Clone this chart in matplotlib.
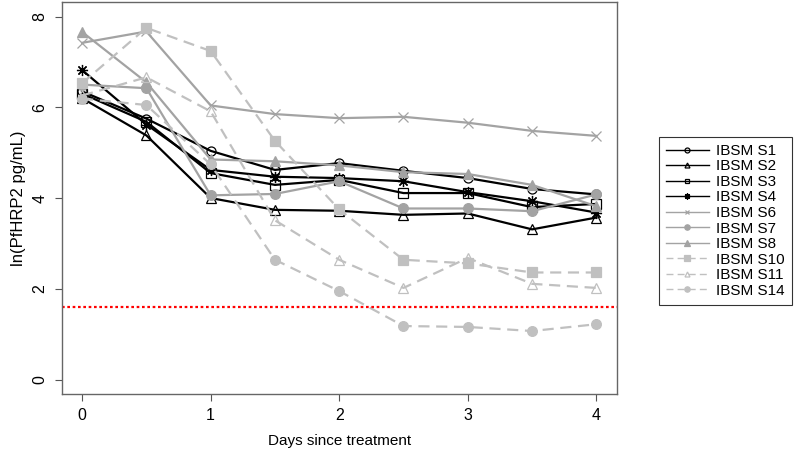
import matplotlib
matplotlib.use("Agg")
import matplotlib.pyplot as plt
import numpy as np

plt.rcParams['font.family'] = ['Liberation Sans', 'DejaVu Sans']

days = [0, 0.5, 1, 1.5, 2, 2.5, 3, 3.5, 4]

s1 = [6.35, 5.75, 5.04, 4.62, 4.77, 4.60, 4.44, 4.20, 4.08]
s2 = [6.20, 5.38, 4.00, 3.74, 3.72, 3.63, 3.66, 3.31, 3.57]
s3 = [6.30, 5.68, 4.55, 4.29, 4.40, 4.11, 4.11, 3.80, 3.87]
s4 = [6.82, 5.62, 4.62, 4.47, 4.44, 4.37, 4.13, 3.93, 3.68]
s6 = [7.42, 7.67, 6.04, 5.85, 5.76, 5.79, 5.66, 5.48, 5.37]
s7 = [6.50, 6.42, 4.06, 4.09, 4.37, 3.77, 3.77, 3.71, 4.08]
s8 = [7.66, 6.55, 4.85, 4.81, 4.72, 4.57, 4.53, 4.29, 3.82]
s10 = [6.53, 7.75, 7.24, 5.26, 3.75, 2.64, 2.56, 2.36, 2.36]
s11 = [6.26, 6.66, 5.91, 3.51, 2.64, 2.02, 2.68, 2.11, 2.02]
s14 = [6.19, 6.05, 4.74, 2.64, 1.95, 1.18, 1.16, 1.07, 1.22]

names = ["IBSM S1", "IBSM S2", "IBSM S3", "IBSM S4", "IBSM S6",
         "IBSM S7", "IBSM S8", "IBSM S10", "IBSM S11", "IBSM S14"]
threshold = np.log(5)

black = "black"
grey = "#a3a3a3"
light = "#c0c0c0"

# (data, colour, linestyle, marker, filled)
series = [
    (s1, black, "-", "o", False),
    (s2, black, "-", "^", False),
    (s3, black, "-", "s", False),
    (s4, black, "-", (8, 2, 0), False),
    (s6, grey, "-", "x", False),
    (s7, grey, "-", "o", True),
    (s8, grey, "-", "^", True),
    (s10, light, (0, (5, 3)), "s", True),
    (s11, light, (0, (5, 3)), "^", False),
    (s14, light, (0, (5, 3)), "o", True),
]

fig = plt.figure(figsize=(7.96, 4.53), dpi=100)
ax = fig.add_axes([0.0773, 0.130, 0.6977, 0.8656])

handles = []
for (vals, col, ls, mk, filled), name in zip(series, names):
    fc = col if filled else "none"
    ms = 7 if filled else 6.5
    if mk == (8, 2, 0):
        ms = 8
    h, = ax.plot(days, vals, color=col, linestyle=ls, linewidth=1.6,
                 marker=mk, markersize=ms, markerfacecolor=fc,
                 markeredgecolor=col, markeredgewidth=0.9, label=name)
    handles.append(h)

ax.axhline(threshold, color="red", linestyle=(0, (1.2, 1.2)), linewidth=1.6)

ax.set_xlim(-0.16, 4.16)
ax.set_ylim(-0.32, 8.32)
ax.set_xticks([0, 1, 2, 3, 4])
ax.set_yticks([0, 2, 4, 6, 8])
ax.tick_params(direction="out", length=5, width=0.8, color="#555555",
               labelsize=11.5, pad=5)
for lab in ax.get_yticklabels():
    lab.set_rotation(90)
    lab.set_va("center")
for sp in ax.spines.values():
    sp.set_color("#666666")
    sp.set_linewidth(1.0)

ax.set_xlabel("Days since treatment", fontsize=11, labelpad=8)
ax.set_ylabel("ln(PfHRP2 pg/mL)", fontsize=12, labelpad=5)

leg = fig.legend(handles=handles, loc="upper left",
                 bbox_to_anchor=(659 / 796, 1 - 137 / 453),
                 frameon=True, fancybox=False, fontsize=11,
                 handlelength=2.8, handletextpad=0.5, labelspacing=0.1,
                 borderpad=0.45, borderaxespad=0, markerscale=0.55)
leg.get_frame().set_edgecolor("black")
leg.get_frame().set_linewidth(0.8)
for line in leg.get_lines():
    line.set_linewidth(1.0)

fig.savefig("out.png", dpi=100)
